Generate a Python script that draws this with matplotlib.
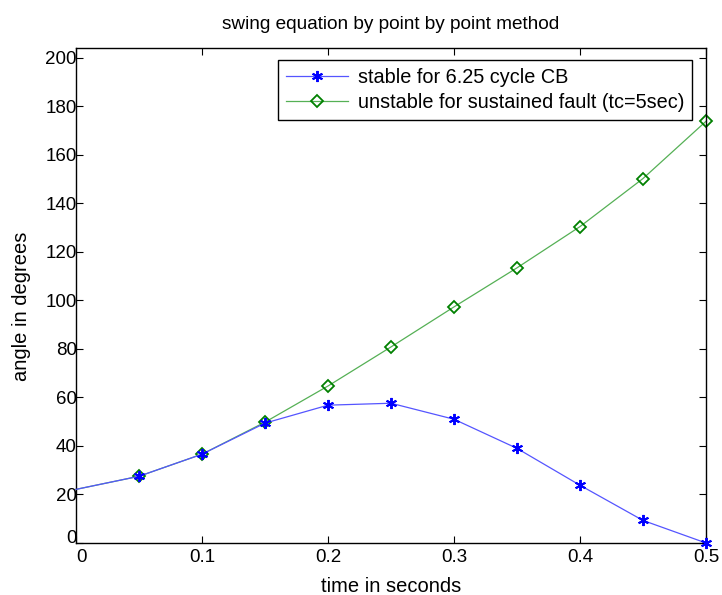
import matplotlib
matplotlib.use("Agg")
import matplotlib.pyplot as plt

plt.rcParams['font.family'] = ['Liberation Sans', 'DejaVu Sans']

time = [0, 0.05, 0.10, 0.15, 0.20, 0.25, 0.30, 0.35, 0.40, 0.45, 0.50]
stable = [22.1, 27.5, 36.6, 49.4, 56.8, 57.6, 51.0, 39.0, 23.8, 9.3, 0.0]
unstable = [22.1, 27.5, 36.6, 49.8, 64.7, 80.8, 97.3, 113.4, 130.4, 150.2, 173.8]
xticks = [0, 0.1, 0.2, 0.3, 0.4, 0.5]
yticks = list(range(0, 201, 20))

fig = plt.figure(figsize=(7.22, 5.95), dpi=100)
ax = fig.add_axes([76/722, 1 - 543/595, 630/722, 495/595])

mk = list(range(1, len(time)))
ax.plot(time, stable, color='#5555ff', lw=0.9, marker=(6, 2, 0), markersize=8,
        markeredgewidth=1.4, markeredgecolor='#0000ff', markerfacecolor='#0000ff',
        markevery=mk, label='stable for 6.25 cycle CB', clip_on=False, zorder=3)
ax.plot(time, unstable, color='#55b055', lw=0.9, marker='D', markersize=6.5,
        markeredgewidth=1.3, markeredgecolor='#008000', markerfacecolor='none',
        markevery=mk, label='unstable for sustained fault (tc=5sec)', clip_on=False, zorder=2)

ax.set_xlim(0, 0.5)
ax.set_ylim(0, 204)
ax.set_xticks(xticks)
ax.set_xticklabels(['0', '0.1', '0.2', '0.3', '0.4', '0.5'])
ax.set_yticks(yticks)
ax.tick_params(direction='in', top=True, right=True, length=5, width=0.8, labelsize=13.5)
ax.tick_params(axis='x', pad=4)
ax.tick_params(axis='y', pad=-0.5)
for s in ax.spines.values():
    s.set_linewidth(1.0)

# MATLAB-style placement of the two zero labels
ax.xaxis.get_major_ticks()[0].label1.set_ha('left')
ax.yaxis.get_major_ticks()[0].label1.set_va('baseline')

ax.set_title('swing equation by point by point method', fontsize=13.7, pad=14)
ax.set_xlabel('time in seconds', fontsize=14.5)
ax.set_ylabel('angle in degrees', fontsize=14.5)
ax.xaxis.set_label_coords(0.5, -0.068)
ax.yaxis.set_label_coords(-0.072, 0.479)

leg = ax.legend(loc='upper right', bbox_to_anchor=(0.978, 0.976), borderaxespad=0,
                fontsize=14.3, fancybox=False, framealpha=1, edgecolor='black',
                handlelength=3.1, borderpad=0.4, labelspacing=0.3, handletextpad=0.5)
leg.get_frame().set_linewidth(1.0)

fig.savefig('out.png', dpi=100)
